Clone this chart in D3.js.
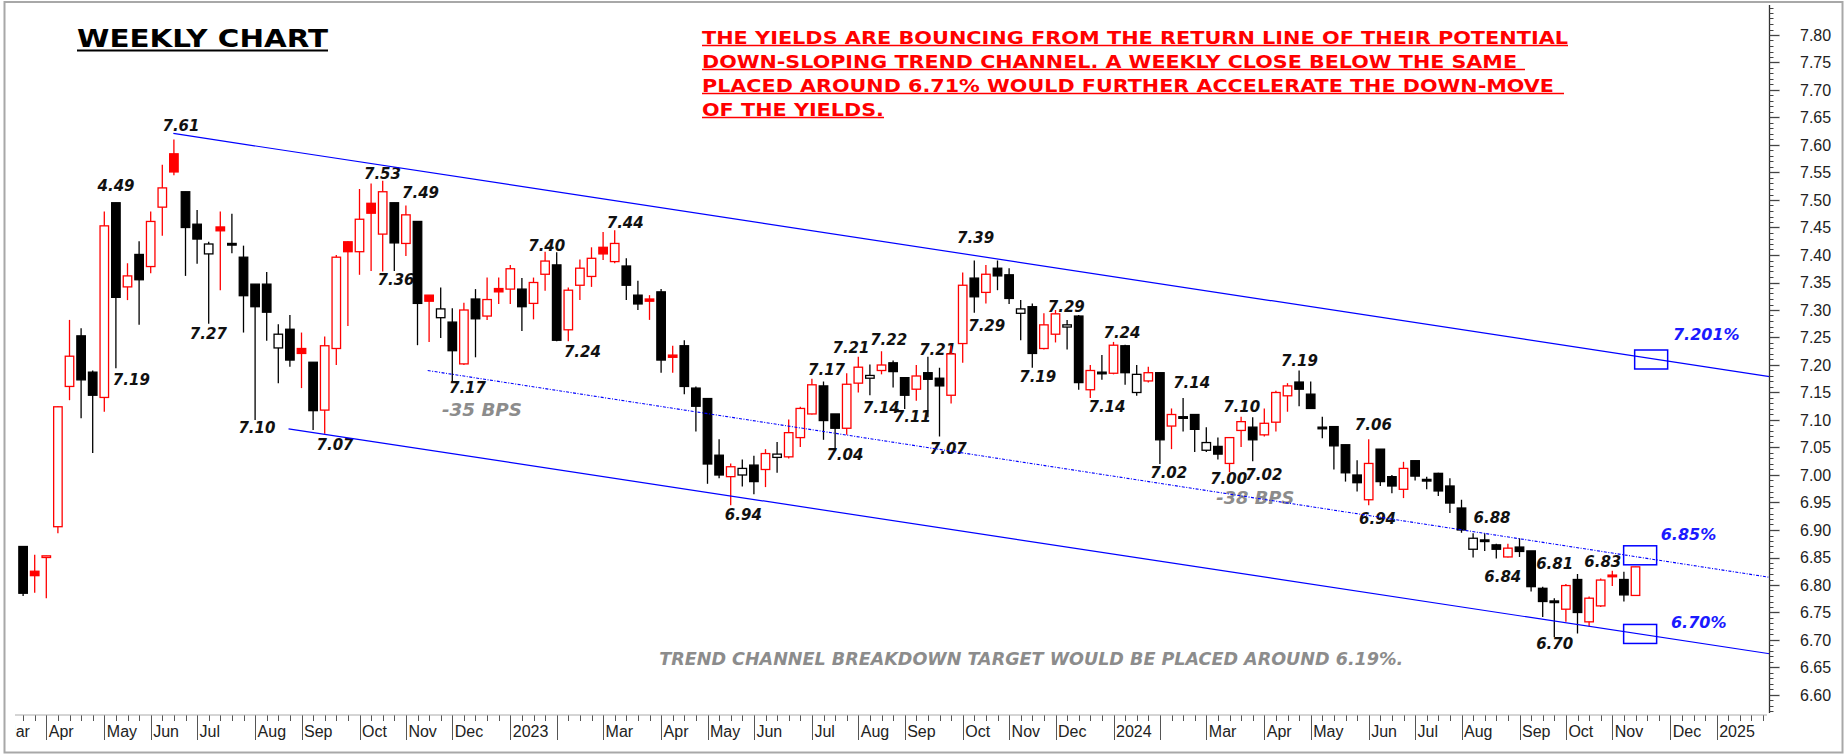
<!DOCTYPE html>
<html>
<head>
<meta charset="utf-8">
<script src="https://cdn.jsdelivr.net/npm/d3@7"></script>
<style>
  body { margin: 0; background: #fff; }
  svg { display: block; }
</style>
</head>
<body>
<div id="chart"></div>
<script>
// weekly bars, first bar on Fri 18 Mar 2022
const startDate = new Date(2022, 2, 18);

const opens = [6.870, 6.825, 6.850, 6.906, 7.161, 7.253, 7.187, 7.141, 7.495, 7.342,
  7.401, 7.379, 7.487, 7.584, 7.515, 7.456, 7.402, 7.451, 7.421, 7.396,
  7.347, 7.347, 7.231, 7.265, 7.230, 7.205, 7.118, 7.230, 7.424, 7.406,
  7.494, 7.438, 7.495, 7.421, 7.461, 7.327, 7.286, 7.278, 7.202, 7.320,
  7.289, 7.339, 7.338, 7.338, 7.312, 7.365, 7.382, 7.264, 7.345, 7.361,
  7.414, 7.388, 7.380, 7.327, 7.320, 7.333, 7.218, 7.235, 7.158, 7.139,
  7.036, 6.997, 7.000, 7.018, 7.010, 7.032, 7.033, 7.068, 7.111, 7.162,
  7.111, 7.085, 7.167, 7.176, 7.190, 7.204, 7.177, 7.156, 7.186, 7.176,
  7.145, 7.239, 7.358, 7.332, 7.376, 7.364, 7.294, 7.306, 7.230, 7.256,
  7.269, 7.289, 7.155, 7.187, 7.185, 7.235, 7.150, 7.171, 7.186, 7.089,
  7.106, 7.110, 7.045, 7.052, 7.021, 7.081, 7.087, 7.073, 7.096, 7.144,
  7.169, 7.147, 7.087, 7.088, 7.055, 7.000, 6.955, 7.047, 6.997, 6.974,
  7.026, 6.992, 7.003, 6.980, 6.940, 6.865, 6.882, 6.873, 6.851, 6.869,
  6.862, 6.794, 6.771, 6.756, 6.810, 6.733, 6.762, 6.818, 6.810, 6.781];

const highs = [6.870, 6.855, 6.853, 7.125, 7.282, 7.267, 7.190, 7.479, 7.495, 7.385,
  7.425, 7.479, 7.564, 7.610, 7.515, 7.482, 7.424, 7.479, 7.475, 7.417,
  7.347, 7.369, 7.274, 7.291, 7.259, 7.205, 7.252, 7.400, 7.425, 7.520,
  7.530, 7.535, 7.495, 7.490, 7.461, 7.327, 7.341, 7.303, 7.313, 7.338,
  7.359, 7.359, 7.382, 7.358, 7.359, 7.406, 7.405, 7.341, 7.392, 7.414,
  7.442, 7.445, 7.394, 7.353, 7.327, 7.338, 7.235, 7.245, 7.161, 7.140,
  7.065, 7.021, 7.028, 7.035, 7.047, 7.060, 7.101, 7.124, 7.175, 7.170,
  7.111, 7.185, 7.215, 7.201, 7.225, 7.208, 7.177, 7.200, 7.215, 7.195,
  7.235, 7.368, 7.390, 7.382, 7.390, 7.376, 7.318, 7.312, 7.294, 7.300,
  7.282, 7.291, 7.200, 7.218, 7.242, 7.237, 7.200, 7.197, 7.186, 7.121,
  7.140, 7.110, 7.087, 7.068, 7.068, 7.106, 7.105, 7.121, 7.153, 7.167,
  7.190, 7.170, 7.106, 7.088, 7.055, 7.027, 7.065, 7.047, 7.000, 7.024,
  7.026, 6.997, 7.004, 6.994, 6.955, 6.894, 6.894, 6.875, 6.875, 6.885,
  6.862, 6.797, 6.776, 6.802, 6.820, 6.779, 6.812, 6.826, 6.824, 6.833];

const lows = [6.780, 6.786, 6.776, 6.894, 7.136, 7.103, 7.040, 7.115, 7.194, 7.318,
  7.273, 7.367, 7.435, 7.545, 7.362, 7.384, 7.275, 7.336, 7.403, 7.259,
  7.100, 7.244, 7.167, 7.197, 7.158, 7.082, 7.075, 7.200, 7.271, 7.364,
  7.371, 7.370, 7.371, 7.398, 7.236, 7.242, 7.249, 7.170, 7.200, 7.214,
  7.282, 7.311, 7.311, 7.262, 7.283, 7.335, 7.243, 7.243, 7.318, 7.342,
  7.391, 7.385, 7.318, 7.300, 7.282, 7.186, 7.186, 7.147, 7.079, 6.984,
  6.994, 6.945, 6.979, 6.965, 6.978, 7.004, 7.030, 7.051, 7.110, 7.064,
  7.045, 7.073, 7.150, 7.145, 7.183, 7.159, 7.120, 7.135, 7.105, 7.070,
  7.130, 7.204, 7.295, 7.312, 7.336, 7.311, 7.245, 7.195, 7.228, 7.241,
  7.228, 7.155, 7.140, 7.173, 7.183, 7.164, 7.144, 7.168, 7.020, 7.047,
  7.079, 7.042, 7.042, 7.028, 7.005, 7.051, 7.025, 7.070, 7.079, 7.115,
  7.125, 7.120, 7.067, 7.010, 6.988, 6.970, 6.945, 6.980, 6.967, 6.958,
  6.990, 6.974, 6.962, 6.931, 6.895, 6.850, 6.862, 6.848, 6.850, 6.851,
  6.788, 6.742, 6.705, 6.733, 6.712, 6.725, 6.760, 6.798, 6.770, 6.780];

const closes = [6.785, 6.817, 6.853, 7.124, 7.216, 7.173, 7.145, 7.453, 7.323, 7.362,
  7.355, 7.461, 7.522, 7.551, 7.450, 7.429, 7.420, 7.444, 7.418, 7.326,
  7.306, 7.296, 7.256, 7.209, 7.221, 7.117, 7.235, 7.396, 7.406, 7.465,
  7.476, 7.515, 7.422, 7.473, 7.312, 7.316, 7.302, 7.226, 7.300, 7.284,
  7.319, 7.333, 7.375, 7.306, 7.350, 7.389, 7.245, 7.336, 7.376, 7.394,
  7.402, 7.421, 7.345, 7.311, 7.316, 7.209, 7.214, 7.161, 7.125, 7.020,
  7.000, 7.015, 7.012, 6.988, 7.039, 7.038, 7.077, 7.121, 7.164, 7.099,
  7.085, 7.165, 7.196, 7.181, 7.200, 7.188, 7.145, 7.180, 7.174, 7.162,
  7.220, 7.345, 7.324, 7.365, 7.362, 7.321, 7.302, 7.221, 7.273, 7.293,
  7.273, 7.168, 7.190, 7.184, 7.236, 7.186, 7.183, 7.186, 7.064, 7.110,
  7.103, 7.083, 7.059, 7.038, 7.068, 7.097, 7.064, 7.094, 7.150, 7.162,
  7.156, 7.121, 7.084, 7.053, 7.004, 6.986, 7.021, 6.988, 6.980, 7.012,
  6.998, 6.989, 6.971, 6.949, 6.900, 6.885, 6.879, 6.865, 6.867, 6.861,
  6.797, 6.770, 6.768, 6.799, 6.750, 6.776, 6.809, 6.815, 6.782, 6.833];

// price labels: text, bar position (weeks from first bar), value
const labelText = ["7.61", "4.49", "7.19", "7.27", "7.10", "7.53", "7.49", "7.36", "7.07", "7.17",
  "7.40", "7.44", "7.24", "6.94", "7.17", "7.04", "7.21", "7.22", "7.14", "7.11",
  "7.21", "7.07", "7.29", "7.39", "7.19", "7.29", "7.24", "7.14", "7.14", "7.02",
  "7.10", "7.00", "7.02", "7.19", "7.06", "6.94", "6.88", "6.84", "6.81", "6.83", "6.70"];
const labelWeek = [13.61, 8.01, 9.33, 15.97, 20.16, 30.98, 34.26, 32.15, 26.89, 38.31,
  45.14, 51.91, 48.22, 62.09, 69.26, 70.85, 71.37, 74.62, 73.98, 76.66,
  78.84, 79.76, 83.07, 82.11, 87.47, 89.93, 94.73, 93.44, 100.74, 98.76,
  105.05, 103.93, 106.96, 110.03, 116.4, 116.76, 126.63, 127.56, 132.03, 136.18, 132.03];
const labelValue = [7.626, 7.516, 7.164, 7.247, 7.077, 7.539, 7.503, 7.345, 7.045, 7.150,
  7.408, 7.449, 7.215, 6.918, 7.182, 7.027, 7.221, 7.236, 7.112, 7.097,
  7.218, 7.039, 7.261, 7.421, 7.170, 7.297, 7.249, 7.115, 7.159, 6.994,
  7.115, 6.983, 6.991, 7.198, 7.081, 6.911, 6.912, 6.806, 6.830, 6.833, 6.683];

// trend channel lines: [startWeek, startValue, endWeek, endValue]
const upperLine = [12.95, 7.621, 150.56, 7.179];
const lowerLine = [22.88, 7.084, 150.56, 6.675];
const midLine = [34.88, 7.190, 150.56, 6.814];

// target boxes and their labels
const boxWeek = [140.35, 139.4, 139.4];
const boxValue = [7.210, 6.854, 6.711];
const boxText = ["7.201%", "6.85%", "6.70%"];
const boxTextWeek = [142.23, 141.17, 142.06];
const boxTextValue = [7.2455, 6.882, 6.722];

const yMajor = d3.range(660, 781, 5).map(v => v / 100);
const yMinor = d3.range(657, 786).map(v => v / 100);

const width = 1845, height = 754;
const plotLeft = 15, plotRight = 1769.5, axisY = 715;

const svg = d3.select("#chart").append("svg")
  .attr("width", width).attr("height", height);

const x = d3.scaleTime()
  .domain([new Date(2022, 3, 1), new Date(2025, 0, 3)])
  .range([46.3, 1716.7]);
const y = d3.scaleLinear().domain([6.60, 7.80]).range([695, 35]);
const WEEK = 7 * 864e5;
const xw = w => x(new Date(+startDate + w * WEEK));

// outer frame
svg.append("rect").attr("x", 4.5).attr("y", 2).attr("width", 1838).attr("height", 750.5)
  .attr("fill", "none").attr("stroke", "#a8a8a8").attr("stroke-width", 2);

const defs = svg.append("defs");
defs.append("clipPath").attr("id", "plot")
  .append("rect").attr("x", plotLeft).attr("y", 0)
  .attr("width", plotRight - plotLeft).attr("height", axisY);
defs.append("clipPath").attr("id", "xaxis")
  .append("rect").attr("x", plotLeft).attr("y", axisY - 2)
  .attr("width", plotRight - plotLeft).attr("height", 40);

// title
svg.append("text").attr("x", 77).attr("y", 47)
  .attr("font-family", "DejaVu Sans").attr("font-weight", "bold").attr("font-size", 25)
  .attr("textLength", 251).attr("lengthAdjust", "spacingAndGlyphs")
  .text("WEEKLY CHART");
svg.append("line").attr("x1", 77).attr("x2", 328).attr("y1", 50.5).attr("y2", 50.5)
  .attr("stroke", "#000").attr("stroke-width", 2);

// comment text
const note = [
  ["THE YIELDS ARE BOUNCING FROM THE RETURN LINE OF THEIR POTENTIAL", 866, 866],
  ["DOWN-SLOPING TREND CHANNEL. A WEEKLY CLOSE BELOW THE SAME", 815, 823],
  ["PLACED AROUND 6.71% WOULD FURTHER ACCELERATE THE DOWN-MOVE", 852, 862],
  ["OF THE YIELDS.", 182, 182]
];
note.forEach((n, i) => {
  const by = 43.5 + i * 24;
  svg.append("text").attr("x", 702).attr("y", by)
    .attr("font-family", "DejaVu Sans").attr("font-weight", "bold").attr("font-size", 17.5)
    .attr("fill", "#ff0000")
    .attr("textLength", n[1]).attr("lengthAdjust", "spacingAndGlyphs")
    .text(n[0]);
  svg.append("line").attr("x1", 702).attr("x2", 702 + n[2])
    .attr("y1", by + 2).attr("y2", by + 2)
    .attr("stroke", "#ff0000").attr("stroke-width", 1.6);
});

const plot = svg.append("g").attr("clip-path", "url(#plot)");

// gray annotations
const gray = plot.append("g")
  .attr("font-family", "DejaVu Sans").attr("font-weight", "bold").attr("font-style", "italic")
  .attr("fill", "#8c8c8c");
gray.append("text").attr("x", xw(36.11)).attr("y", y(7.107)).attr("font-size", 18)
  .attr("textLength", 80).attr("lengthAdjust", "spacingAndGlyphs").text("-35 BPS");
gray.append("text").attr("x", xw(102.86)).attr("y", y(6.947)).attr("font-size", 18)
  .attr("textLength", 78).attr("lengthAdjust", "spacingAndGlyphs").text("-38 BPS");
gray.append("text").attr("x", xw(54.84)).attr("y", y(6.655)).attr("font-size", 17)
  .attr("textLength", 744).attr("lengthAdjust", "spacingAndGlyphs")
  .text("TREND CHANNEL BREAKDOWN TARGET WOULD BE PLACED AROUND 6.19%.");

// price labels
plot.append("g")
  .attr("font-family", "DejaVu Sans").attr("font-weight", "bold").attr("font-style", "italic")
  .attr("font-size", 15).attr("text-anchor", "middle").attr("fill", "#111")
  .selectAll("text").data(labelText).join("text")
  .attr("x", (d, i) => xw(labelWeek[i]))
  .attr("y", (d, i) => y(labelValue[i]))
  .text(d => d);

// candles
const bars = opens.map((o, k) => ({
  date: d3.timeWeek.offset(startDate, k),
  o, h: highs[k], l: lows[k], c: closes[k],
  prev: k === 0 ? o : closes[k - 1]
}));
const bw = 8.5;
const candle = plot.append("g").selectAll("g").data(bars).join("g");
const col = d => d.c >= d.prev ? "#ff0000" : "#000000";
candle.append("line")
  .attr("x1", d => x(d.date)).attr("x2", d => x(d.date))
  .attr("y1", d => y(d.h)).attr("y2", d => y(d.l))
  .attr("stroke", col).attr("stroke-width", 1.3);
candle.append("rect")
  .attr("x", d => x(d.date) - bw / 2)
  .attr("y", d => y(Math.max(d.o, d.c)))
  .attr("width", bw)
  .attr("height", d => Math.max(1.5, Math.abs(y(d.o) - y(d.c))))
  .attr("fill", d => d.c > d.o ? "#fff" : col(d))
  .attr("stroke", col).attr("stroke-width", 1.3);

// trend channel
const chan = plot.append("g").attr("fill", "none").attr("stroke", "#0000ff");
[upperLine, lowerLine].forEach(ln => {
  chan.append("line")
    .attr("x1", xw(ln[0])).attr("y1", y(ln[1]))
    .attr("x2", xw(ln[2])).attr("y2", y(ln[3]))
    .attr("stroke-width", 1.2);
});
chan.append("line")
  .attr("x1", xw(midLine[0])).attr("y1", y(midLine[1]))
  .attr("x2", xw(midLine[2])).attr("y2", y(midLine[3]))
  .attr("stroke-width", 1.1).attr("stroke-dasharray", "3,1.5,1,1.5");

// target boxes
chan.selectAll("rect").data(boxWeek).join("rect")
  .attr("x", (d, i) => xw(d) - 16.5)
  .attr("y", (d, i) => y(boxValue[i]) - 9.5)
  .attr("width", 33).attr("height", 19)
  .attr("stroke-width", 1.5);
plot.append("g")
  .attr("font-family", "DejaVu Sans").attr("font-weight", "bold").attr("font-style", "italic")
  .attr("font-size", 16).attr("fill", "#1a1aff")
  .selectAll("text").data(boxText).join("text")
  .attr("x", (d, i) => xw(boxTextWeek[i]))
  .attr("y", (d, i) => y(boxTextValue[i]))
  .text(d => d);

// y axis (right)
const yAxis = svg.append("g");
yAxis.append("line").attr("x1", plotRight).attr("x2", plotRight)
  .attr("y1", 5).attr("y2", 713).attr("stroke", "#333").attr("stroke-width", 1.3);
yAxis.selectAll(".mn").data(yMinor).join("line").attr("class", "mn")
  .attr("x1", plotRight).attr("x2", plotRight + 4)
  .attr("y1", d => Math.round(y(d)) + 0.5).attr("y2", d => Math.round(y(d)) + 0.5)
  .attr("stroke", "#444");
yAxis.selectAll(".mj").data(yMajor).join("line").attr("class", "mj")
  .attr("x1", plotRight).attr("x2", plotRight + 10)
  .attr("y1", d => Math.round(y(d)) + 0.5).attr("y2", d => Math.round(y(d)) + 0.5)
  .attr("stroke", "#444").attr("stroke-width", 1.3);
yAxis.selectAll("text").data(yMajor).join("text")
  .attr("x", 1800).attr("y", d => y(d)).attr("dy", "0.36em")
  .attr("font-family", "Liberation Sans, Arial, sans-serif").attr("font-size", 16)
  .attr("fill", "#222")
  .text(d => d.toFixed(2));

// x axis (bottom)
const xAxis = svg.append("g").attr("clip-path", "url(#xaxis)");
const weeks = d3.timeFriday.range(new Date(2022, 2, 1), new Date(2025, 1, 1));
const months = d3.timeMonth.range(new Date(2022, 2, 1), new Date(2025, 1, 1))
  .map(m => d3.timeFriday.ceil(m));
svg.append("line").attr("x1", plotLeft).attr("x2", 1767)
  .attr("y1", axisY).attr("y2", axisY).attr("stroke", "#aaa");
xAxis.selectAll(".wk").data(weeks).join("line").attr("class", "wk")
  .attr("x1", d => Math.round(x(d)) + 0.5).attr("x2", d => Math.round(x(d)) + 0.5)
  .attr("y1", axisY).attr("y2", axisY + 6).attr("stroke", "#555");
xAxis.selectAll(".mo").data(months).join("line").attr("class", "mo")
  .attr("x1", d => Math.round(x(d)) + 0.5).attr("x2", d => Math.round(x(d)) + 0.5)
  .attr("y1", axisY).attr("y2", axisY + 25).attr("stroke", "#555");
const fmt = d3.timeFormat("%b");
xAxis.selectAll("text").data(months.filter(d => d.getMonth() !== 1)).join("text")
  .attr("x", d => x(d) + 2.5).attr("y", 737)
  .attr("font-family", "Liberation Sans, Arial, sans-serif").attr("font-size", 16)
  .attr("fill", "#222")
  .text(d => d.getMonth() === 0 ? d.getFullYear() : fmt(d));
</script>
</body>
</html>
